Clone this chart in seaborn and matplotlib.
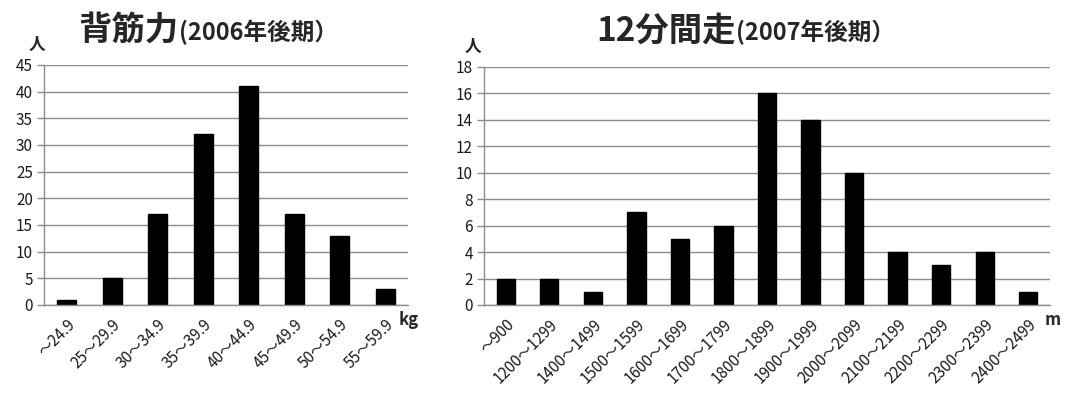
import matplotlib
matplotlib.use("Agg")
import matplotlib.pyplot as plt
import seaborn as sns
import pandas as pd
import numpy as np

sns.set_theme(style="white")
plt.rcParams['font.family'] = ['Noto Sans CJK JP', 'DejaVu Sans']

# Back strength (2006, second term)
back_bins = ["〜24.9", "25〜29.9", "30〜34.9", "35〜39.9", "40〜44.9",
             "45〜49.9", "50〜54.9", "55〜59.9"]
back_counts = [1, 5, 17, 32, 41, 17, 13, 3]

# 12-minute run (2007, second term)
run_bins = ["〜900", "1200〜1299", "1400〜1499", "1500〜1599", "1600〜1699",
            "1700〜1799", "1800〜1899", "1900〜1999", "2000〜2099", "2100〜2199",
            "2200〜2299", "2300〜2399", "2400〜2499"]
run_counts = [2, 2, 1, 7, 5, 6, 16, 14, 10, 4, 3, 4, 1]

fig = plt.figure(figsize=(10.67, 3.98), dpi=100)
ax1 = fig.add_axes([0.0412, 0.2337, 0.341, 0.603])
ax2 = fig.add_axes([0.4536, 0.2337, 0.5305, 0.598])


def draw(ax, bins, counts, ymax, ystep, unit, unit_x):
    df = pd.DataFrame({"bin": bins, "count": counts})
    sns.barplot(data=df, x="bin", y="count", ax=ax, color="black",
                width=0.42, saturation=1, edgecolor="black")
    n = len(bins)
    ax.set_xlim(-0.5, n - 0.5)
    ax.set_ylim(0, ymax)
    ax.set_yticks(np.arange(0, ymax + ystep / 2, ystep))
    ax.yaxis.grid(True, color="#8c8c8c", linewidth=1.0)
    ax.set_axisbelow(True)
    ax.set_xlabel("")
    ax.set_ylabel("")
    for s in ("top", "right"):
        ax.spines[s].set_visible(False)
    for s in ("left", "bottom"):
        ax.spines[s].set_color("#8c8c8c")
        ax.spines[s].set_linewidth(1.0)
    ax.set_xticks(range(n))
    ax.set_xticklabels(bins, rotation=45, ha="right", rotation_mode="anchor",
                       fontsize=11, color="#1a1a1a")
    ax.tick_params(axis="x", which="major", length=0, pad=8)
    ax.set_xticks(np.arange(-0.5, n, 1.0), minor=True)
    ax.tick_params(axis="x", which="minor", length=5, color="#8c8c8c",
                   direction="out", width=1.0)
    ax.tick_params(axis="y", length=5, color="#8c8c8c", labelsize=11,
                   labelcolor="#1a1a1a", width=1.0, direction="out", pad=3)
    ax.tick_params(axis="y", which="major", left=True)
    ax.text(-0.02, 1.045, "人", transform=ax.transAxes, fontsize=12,
            fontweight="bold", ha="center", va="bottom")
    ax.text(unit_x, -0.025, unit, transform=ax.transAxes, fontsize=12,
            fontweight="bold", ha="left", va="top")


draw(ax1, back_bins, back_counts, 45, 5, "kg", 0.975)
draw(ax2, run_bins, run_counts, 18, 2, "m", 0.99)


def title(fig, xc, y, big, small):
    r = fig.canvas.get_renderer()
    t1 = fig.text(0, y, big, fontsize=24, fontweight="bold", va="baseline")
    t2 = fig.text(0, y, small, fontsize=17, fontweight="bold", va="baseline")
    w1 = t1.get_window_extent(r).width / fig.bbox.width
    w2 = t2.get_window_extent(r).width / fig.bbox.width
    x0 = xc - (w1 + w2) / 2
    t1.set_x(x0)
    t2.set_x(x0 + w1)


title(fig, 0.195, 0.899, "背筋力", "(2006年後期）")
title(fig, 0.699, 0.899, "12分間走", "(2007年後期）")

fig.savefig("out.png", dpi=100, facecolor="white")
